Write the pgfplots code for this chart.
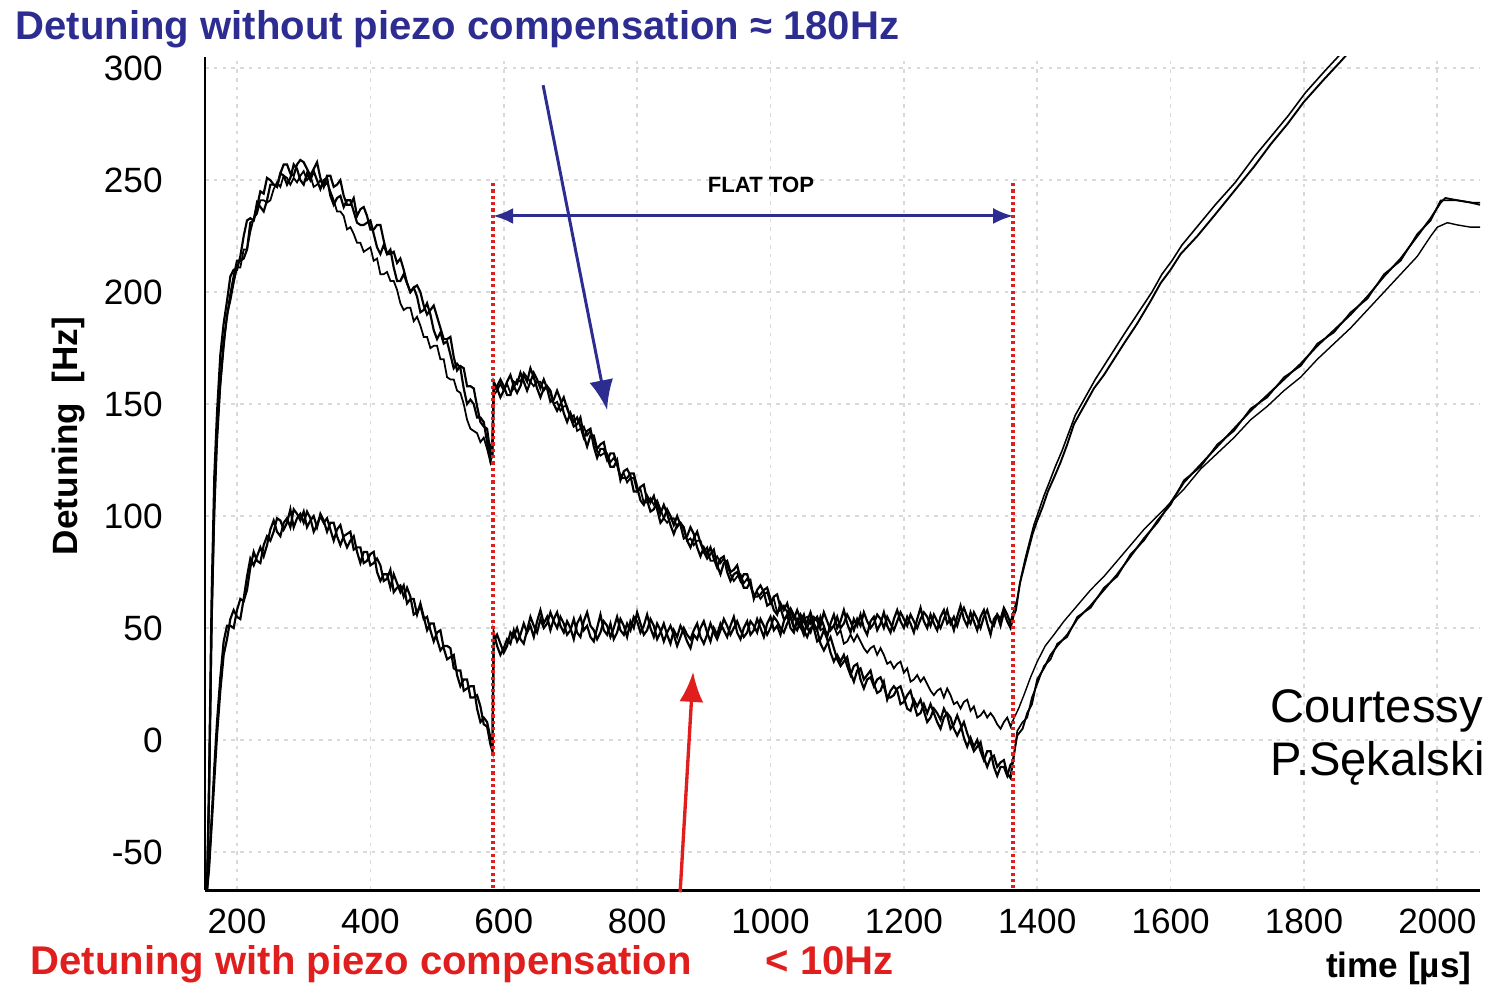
\documentclass[border=0pt]{standalone}
\usepackage{pgfplots}
\pgfplotsset{compat=1.18}
\usepackage{pgfplotstable}
\usepackage{fontspec}
\setmainfont{Liberation Sans}
\usetikzlibrary{arrows.meta}
\definecolor{tblue}{RGB}{45,45,145}
\definecolor{tred}{RGB}{225,30,30}

\pgfplotstableread{
t A B C D E
155 -67 -67 -67 -67 -67
158 -20 -25 -30 -55 -58
162 65 55 50 -35 -38
166 118 106 100 -12 -18
170 146 138 132 8 2
175 172 160 158 28 22
180 186 178 175 44 38
185 196 189 190 51 45
190 207 199 196 51 54
195 210 207 204 50 58
200 210 214 211 58 55
205 216 214 211 63 54
210 225 215 219 62 63
215 232 219 219 67 73
220 233 231 227 77 81
225 232 232 233 84 78
230 238 240 235 80 82
235 245 238 241 79 86
240 244 236 241 87 82
245 251 241 240 91 87
250 250 248 241 89 94
255 248 248 246 93 98
260 247 247 249 99 93
265 253 253 247 98 91
270 257 252 252 94 97
275 257 248 251 97 99
280 253 251 248 103 95
285 252 257 251 95 103
290 257 255 249 99 101
295 259 250 252 101 98
300 258 248 254 97 102
305 255 253 250 102 95
310 252 250 252 99 98
315 255 254 247 93 100
320 258 250 248 96 95
325 251 246 250 100 101
330 247 250 247 97 98
335 252 251 249 99 93
340 252 243 245 94 97
345 247 239 241 89 97
350 248 242 236 94 91
355 250 243 236 96 87
360 243 238 234 90 91
365 239 241 228 86 92
370 239 241 229 89 93
375 242 236 226 91 85
380 234 231 222 84 86
385 237 230 222 79 86
390 238 230 218 84 79
395 234 231 219 84 80
400 228 232 220 78 83
405 228 226 214 79 84
410 230 220 215 81 75
415 230 217 208 78 71
420 223 221 208 71 74
425 217 217 209 72 74
430 217 219 205 76 68
435 218 211 205 66 74
440 213 205 201 68 70
445 215 205 195 69 66
450 210 208 192 64 69
455 204 204 193 68 61
460 200 200 193 64 63
465 202 202 187 56 63
470 203 198 189 57 56
475 200 191 185 60 61
480 194 192 180 54 55
485 190 195 180 55 49
490 192 190 175 49 52
495 194 183 176 44 52
500 189 179 176 48 45
505 184 182 170 49 40
510 179 177 170 41 42
515 179 178 162 36 42
520 180 172 161 37 41
525 171 166 161 38 32
530 165 168 156 29 31
535 167 166 155 24 31
540 166 157 150 27 22
545 158 150 143 27 23
550 158 152 139 19 24
555 157 150 138 19 24
560 149 144 137 20 14
565 142 144 133 15 8
570 140 142 135 7 10
575 139 133 130 6 8
580 128 125 124 -2 1
583 134 127 128 -5 -3
585 160 156 154 48 44
590 157 158 156 42 47
595 153 161 159 38 43
600 156 158 156 41 39
605 160 154 159 45 42
610 163 154 155 43 48
615 158 160 157 49 46
620 155 159 161 44 50
625 158 164 160 47 45
630 163 160 164 52 43
635 160 156 162 48 49
640 166 160 160 51 55
645 162 164 158 46 51
650 157 161 160 53 48
655 153 157 160 58 54
660 157 161 156 52 50
665 158 157 158 55 52
670 156 151 155 49 57
675 150 152 150 54 53
680 147 156 151 57 50
685 150 152 147 51 55
690 153 146 149 48 52
695 148 142 149 53 47
700 144 146 144 50 49
705 140 142 145 45 54
710 141 144 138 52 48
715 144 140 139 55 46
720 136 135 140 49 53
725 131 138 136 51 57
730 136 139 138 46 51
735 136 131 134 44 49
740 130 126 129 50 45
745 132 130 127 56 48
750 133 130 128 49 53
755 126 125 128 47 51
760 122 128 124 52 46
765 122 128 126 45 50
770 125 123 123 48 55
775 116 117 118 54 49
780 120 117 119 51 47
785 121 117 115 46 52
790 118 119 117 53 49
795 111 119 117 50 55
800 111 113 111 57 53
805 113 107 112 52 48
810 114 105 106 47 51
815 107 109 106 49 56
820 102 106 108 54 50
825 103 109 105 51 46
830 106 103 107 45 52
835 101 97 103 48 49
840 105 99 99 52 44
845 101 103 97 47 48
850 96 100 99 43 51
855 92 96 99 49 47
860 96 100 95 46 42
865 97 96 97 51 46
870 95 90 94 48 50
875 89 91 89 44 47
880 86 95 90 41 45
885 90 92 87 47 49
890 93 86 89 45 52
895 88 82 89 50 46
900 84 86 84 53 43
905 81 83 86 48 47
910 83 86 80 44 52
915 85 81 80 50 48
920 78 77 82 47 45
925 74 81 79 52 49
930 79 82 81 49 54
935 80 75 78 46 51
940 75 71 74 51 47
945 76 74 71 55 50
950 78 75 73 48 53
955 72 71 74 45 49
960 68 74 70 50 46
965 68 74 72 53 48
970 71 69 69 47 53
975 63 64 65 49 51
980 67 64 66 54 48
985 69 65 63 50 54
990 66 67 65 46 51
995 60 68 66 52 47
1000 61 63 61 55 50
1005 64 58 63 49 55
1010 65 56 57 51 53
1015 59 61 58 47 50
1020 54 58 60 53 48
1025 55 61 57 56 52
1030 58 55 59 50 55
1035 54 50 56 48 51
1040 58 52 52 54 49
1045 54 56 50 51 53
1050 49 53 54 47 56
1055 46 50 55 53 50
1060 50 54 52 57 48
1065 51 50 55 52 53
1070 49 44 53 49 55
1075 43 45 49 55 51
1080 40 49 50 51 57
1085 43 45 47 46 53
1090 46 39 50 52 49
1095 41 35 51 56 51
1100 36 38 47 50 55
1105 33 35 49 53 50
1110 35 38 43 58 52
1115 37 33 44 52 56
1120 30 29 47 48 53
1125 26 33 44 54 49
1130 31 34 47 51 54
1135 32 27 44 56 51
1140 27 23 41 50 57
1145 29 27 39 47 53
1150 31 28 41 53 50
1155 25 24 42 55 52
1160 21 27 38 49 56
1165 22 28 41 52 54
1170 26 24 38 57 50
1175 18 19 34 51 55
1180 22 19 35 48 52
1185 24 20 32 54 49
1190 22 23 34 58 53
1195 16 24 35 53 57
1200 17 19 30 50 54
1205 20 14 32 55 51
1210 22 13 26 52 56
1215 16 18 27 48 53
1220 11 15 29 54 50
1225 12 18 26 59 54
1230 16 13 28 53 57
1235 12 8 25 50 55
1240 16 10 22 56 51
1245 12 14 20 52 56
1250 8 12 22 49 53
1255 5 9 23 55 50
1260 10 14 19 58 54
1265 12 11 23 52 58
1270 10 5 20 54 52
1275 5 7 16 49 55
1280 2 11 17 55 51
1285 5 7 14 60 56
1290 8 1 17 54 59
1295 3 -3 18 51 55
1300 -1 1 13 57 52
1305 -5 -3 15 53 57
1310 -3 0 10 49 54
1315 -1 -5 11 55 50
1320 -8 -9 13 58 55
1325 -12 -5 10 52 58
1330 -8 -5 12 47 53
1335 -7 -12 10 54 51
1340 -12 -16 7 56 56
1345 -10 -12 5 51 54
1350 -9 -12 8 57 59
1355 -15 -16 10 53 56
1360 -17 -11 6 50 52
1364 -8 -10 9 55 57
}\main

\begin{document}
\begin{tikzpicture}
\useasboundingbox (0,0) rectangle (149mm,98.4mm);
\begin{axis}[
  at={(20.5mm,9.4mm)}, anchor=south west,
  scale only axis, width=127.5mm, height=83.3mm,
  xmin=152, xmax=2064, ymin=-67, ymax=305,
  axis x line=bottom, axis y line=left,
  axis line style={line width=0.85pt,-},
  xtick={200,400,...,2000},
  xticklabels={200,400,600,800,1000,1200,1400,1600,1800,2000},
  ytick={-50,0,50,100,150,200,250,300},
  yticklabels={-50,0,50,100,150,200,250,300},
  major tick length=0pt,
  grid=major,
  major grid style={black!15, dash pattern=on 1pt off 1.5pt, line width=0.5pt},
  ticklabel style={font=\fontsize{10pt}{12pt}\selectfont},
  yticklabel style={xshift=-3mm},
  xticklabel style={yshift=-0.7mm},
]
\addplot[black, line width=0.62pt, mark=none] table[x=t,y=A]{\main};
\addplot[black, line width=0.62pt, mark=none] table[x=t,y=B]{\main};
\addplot[black, line width=0.5pt, mark=none] table[x=t,y=C]{\main};
\addplot[black, line width=0.62pt, mark=none] table[x=t,y=D]{\main};
\addplot[black, line width=0.62pt, mark=none] table[x=t,y=E]{\main};
% after flat top
\addplot[black, line width=0.55pt, mark=none] coordinates {(1364,-8) (1370,2) (1378,5) (1385,12) (1392,16) (1400,27) (1410,32) (1420,38) (1430,42) (1445,47) (1460,54) (1480,60) (1500,67) (1520,74) (1540,82) (1560,90) (1580,97) (1600,106) (1620,115) (1645,123) (1670,131) (1695,139) (1720,147) (1745,154) (1770,161) (1795,168) (1820,176) (1845,183) (1870,190) (1895,198) (1920,207) (1945,215) (1970,225) (1990,233) (2005,240) (2012,242) (2030,241) (2050,240) (2064,239)};
\addplot[black, line width=0.45pt, mark=none] coordinates {(1364,-10) (1370,4) (1378,8) (1385,10) (1392,19) (1400,25) (1410,33) (1420,36) (1430,43) (1445,46) (1460,55) (1480,59) (1500,68) (1520,73) (1540,83) (1560,89) (1580,98) (1600,105) (1620,116) (1645,122) (1670,132) (1695,138) (1720,148) (1745,153) (1770,162) (1795,167) (1820,177) (1845,182) (1870,191) (1895,197) (1920,208) (1945,214) (1970,226) (1990,232) (2005,241) (2010,241) (2030,241) (2050,240) (2064,240)};
\addplot[black, line width=0.4pt, mark=none] coordinates {(1364,9) (1372,14) (1380,20) (1390,28) (1400,35) (1412,42) (1425,47) (1440,53) (1460,60) (1480,67) (1500,73) (1520,80) (1540,87) (1560,94) (1580,100) (1600,106) (1620,112) (1645,121) (1670,128) (1695,135) (1720,143) (1745,149) (1770,156) (1795,162) (1820,170) (1845,177) (1870,184) (1895,192) (1920,200) (1945,208) (1970,216) (1990,225) (2000,229) (2015,231) (2030,230) (2050,229) (2064,229)};
\addplot[black, line width=0.55pt, mark=none] coordinates {(1364,55) (1368,58) (1374,70) (1380,77) (1386,84) (1393,92) (1400,98) (1408,104) (1416,111) (1425,117) (1435,124) (1445,132) (1455,141) (1470,149) (1485,157) (1500,163) (1515,170) (1530,177) (1550,186) (1570,196) (1585,204) (1600,210) (1615,217) (1640,225) (1665,234) (1695,245) (1725,256) (1750,266) (1775,275) (1800,285) (1830,295) (1855,303) (1870,308)};
\addplot[black, line width=0.45pt, mark=none] coordinates {(1364,57) (1370,63) (1376,73) (1382,81) (1388,88) (1395,96) (1402,102) (1410,109) (1418,115) (1427,122) (1437,129) (1447,137) (1457,145) (1472,153) (1487,161) (1502,168) (1517,175) (1532,182) (1552,191) (1572,200) (1587,208) (1602,214) (1617,221) (1642,230) (1667,239) (1697,249) (1727,261) (1752,270) (1777,279) (1802,289) (1832,299) (1857,307) (1872,312)};
\coordinate (bA) at (axis cs:659,292.4);
\coordinate (bB) at (axis cs:755,147.3);
\coordinate (rA) at (axis cs:864.5,-68);
\coordinate (rB) at (axis cs:884,30.4);
\coordinate (f1) at (axis cs:584,234);
\coordinate (f2) at (axis cs:1364,234);
\coordinate (d1t) at (axis cs:584,248.7);
\coordinate (d1b) at (axis cs:584,-67);
\coordinate (d2t) at (axis cs:1364,248.7);
\coordinate (d2b) at (axis cs:1364,-67);
\end{axis}
\draw[tred, line width=1.1pt, dash pattern=on 0.9pt off 0.9pt] (d1t) -- (d1b);
\draw[tred, line width=1.1pt, dash pattern=on 0.9pt off 0.9pt] (d2t) -- (d2b);
\draw[tblue, line width=0.85pt, {Latex[length=2mm,width=1.6mm]}-{Latex[length=2mm,width=1.6mm]}] (f1) -- (f2);
\draw[tblue, line width=0.85pt, -{Latex[length=3mm,width=2.4mm]}] (bA) -- (bB);
\draw[tred, line width=0.95pt, -{Latex[length=3mm,width=2.4mm]}] (rA) -- (rB);
\node[anchor=base west, text=tblue, font=\fontsize{11.4pt}{13pt}\selectfont\bfseries, inner sep=0] at (1.5mm,94.4mm) {Detuning without piezo compensation ≈ 180Hz};
\node[anchor=base west, text=tred, font=\fontsize{11.4pt}{13pt}\selectfont\bfseries, inner sep=0] at (3.0mm,1.0mm) {Detuning with piezo compensation};
\node[anchor=base west, text=tred, font=\fontsize{11.4pt}{13pt}\selectfont\bfseries, inner sep=0] at (76.5mm,1.0mm) {< 10Hz};
\node[anchor=base east, font=\fontsize{10pt}{12pt}\selectfont\bfseries, inner sep=0] at (147.2mm,0.7mm) {time [µs]};
\node[rotate=90, font=\fontsize{10pt}{12pt}\selectfont\bfseries, inner sep=0] at (6.8mm,54.8mm) {Detuning\ \ [Hz]};
\node[font=\fontsize{6.3pt}{7pt}\selectfont\bfseries, inner sep=0] at (76.1mm,79.9mm) {FLAT TOP};
\node[anchor=base west, font=\fontsize{13.4pt}{16pt}\selectfont, inner sep=0] at (127.0mm,26.2mm) {Courtessy};
\node[anchor=base west, font=\fontsize{13.4pt}{16pt}\selectfont, inner sep=0] at (127.0mm,20.9mm) {P.Sękalski};
\end{tikzpicture}
\end{document}
